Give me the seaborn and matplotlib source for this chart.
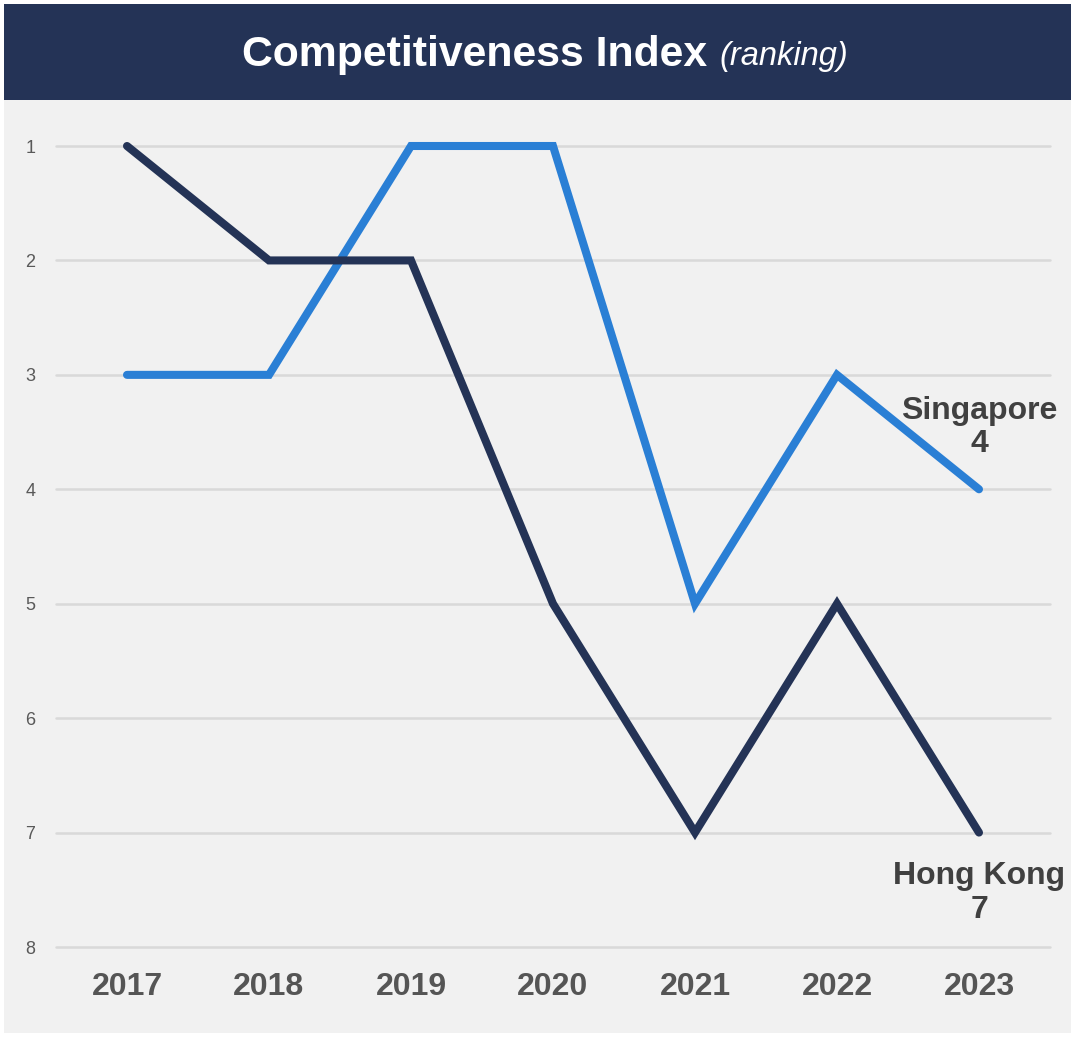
import matplotlib
matplotlib.use("Agg")
import matplotlib.pyplot as plt
import seaborn as sns
import pandas as pd
from matplotlib.patches import Rectangle

years = ["2017", "2018", "2019", "2020", "2021", "2022", "2023"]
hong_kong = [1, 2, 2, 5, 7, 5, 7]
singapore = [3, 3, 1, 1, 5, 3, 4]
y_ticks = [1, 2, 3, 4, 5, 6, 7, 8]

NAVY = "#243356"
BLUE = "#2a7fd5"
BG = "#f1f1f1"

df = pd.DataFrame({
    "Year": years * 2,
    "Rank": hong_kong + singapore,
    "Economy": ["Hong Kong"] * len(years) + ["Singapore"] * len(years),
})

sns.set_theme(style="white")
plt.rcParams["font.family"] = ["Liberation Sans", "DejaVu Sans"]

W, H = 1071, 1037
fig = plt.figure(figsize=(W / 100, H / 100), dpi=100, facecolor="white")

# background panels
fig.patches.append(Rectangle((4 / W, 1 - 1033 / H), (W - 4) / W, (1033 - 100) / H,
                             transform=fig.transFigure, facecolor=BG, edgecolor="none", zorder=-10))
fig.patches.append(Rectangle((4 / W, 1 - 100 / H), (W - 4) / W, 96 / H,
                             transform=fig.transFigure, facecolor=NAVY, edgecolor="none", zorder=-10))

ax = fig.add_axes([56 / W, 1 - 947 / H, (1050 - 56) / W, (947 - 146) / H])
ax.set_facecolor(BG)

sns.lineplot(data=df, x="Year", y="Rank", hue="Economy",
             palette={"Hong Kong": NAVY, "Singapore": BLUE},
             hue_order=["Singapore", "Hong Kong"],
             linewidth=5.8, legend=False, ax=ax, sort=False)
for line in ax.lines:
    line.set_clip_on(False)
    line.set_solid_capstyle("round")
    line.set_solid_joinstyle("miter")

ax.set_ylim(8, 1)
ax.set_xlim(-0.5, 6.5)
ax.set_yticks(y_ticks)
ax.set_yticklabels([str(t) for t in y_ticks])
ax.grid(axis="y", color="#d9d9d9", linewidth=1.8)
for gl in ax.get_ygridlines():
    gl.set_clip_on(False)
ax.set_axisbelow(True)
for s in ax.spines.values():
    s.set_visible(False)
ax.tick_params(axis="y", length=0, pad=22, labelsize=13, labelcolor="#595959")
ax.tick_params(axis="x", length=0, pad=18, labelsize=23, labelcolor="#555555")
for lbl in ax.get_xticklabels():
    lbl.set_fontweight("bold")
for lbl in ax.get_yticklabels():
    lbl.set_horizontalalignment("left")
ax.set_xlabel("")
ax.set_ylabel("")

# end labels
ax.text(6, 3.46, "Singapore\n%d" % singapore[-1], ha="center", va="center",
        fontsize=23, fontweight="bold", color="#404040", linespacing=1.15)
ax.text(6, 7.53, "Hong Kong\n%d" % hong_kong[-1], ha="center", va="center",
        fontsize=23, fontweight="bold", color="#404040", linespacing=1.15)

# title
t1 = fig.text(0.5, 1 - 55 / H, "Competitiveness Index ", ha="left", va="center",
              fontsize=30.8, fontweight="bold", color="white")
t2 = fig.text(0.5, 1 - 57 / H, "(ranking)", ha="left", va="center",
              fontsize=23.5, fontstyle="italic", color="white")
fig.canvas.draw()
r = fig.canvas.get_renderer()
bb1 = t1.get_window_extent(r)
bb2 = t2.get_window_extent(r)
total = bb1.width + bb2.width
start = (545 - total / 2) / W
t1.set_x(start)
t2.set_x(start + bb1.width / W)

fig.savefig("out.png", dpi=100, facecolor="white")
